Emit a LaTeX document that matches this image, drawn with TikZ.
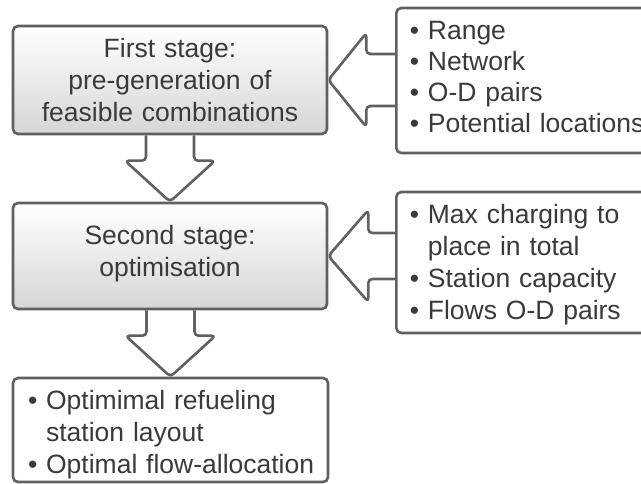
\documentclass[tikz,border=0pt]{standalone}
\usepackage{fontspec}
\setmainfont{Liberation Sans}
\usetikzlibrary{calc}
\pgfdeclarelayer{background}
\pgfsetlayers{background,main}
\definecolor{edge}{RGB}{96,96,96}
\definecolor{ink}{RGB}{58,58,58}
\definecolor{shadebot}{RGB}{214,214,214}
\newcommand\tallstrut[1]{\rule{0pt}{#1}}
\newcommand\deepstrut[1]{\rule[-#1]{0pt}{0pt}}
\newcommand\blockdown[5]{% source, target, stem half width, head half width, head depth
  \draw[blockarrow] let \p1=(#1.south), \p2=(#2.north) in
    (\x2-#3,\y1) -- (\x2-#3,\y2+#5) -- (\x2-#4,\y2+#5) -- (\x2,\y2)
    -- (\x2+#4,\y2+#5) -- (\x2+#3,\y2+#5) -- (\x2+#3,\y1);}
\newcommand\blockleft[5]{% source, target, stem half height, head half height, head depth
  \draw[blockarrow] let \p1=(#1.west), \p2=(#2.east) in
    (\x1,\y2+#3) -- (\x2+#5,\y2+#3) -- (\x2+#5,\y2+#4) -- (\x2,\y2)
    -- (\x2+#5,\y2-#4) -- (\x2+#5,\y2-#3) -- (\x1,\y2-#3);}
\begin{document}
\begin{tikzpicture}[x=1pt,y=-1pt,
  txt/.style={text=ink, font=\fontsize{26.5}{32}\selectfont},
  stagebox/.style={txt, draw=edge, line width=2.6pt, rounded corners=5pt,
    top color=white, bottom color=shadebot, minimum width=314pt,
    text width=304pt, align=center, inner sep=0pt},
  listbox/.style={txt, draw=edge, line width=2.6pt, rounded corners=5pt,
    fill=white, align=left, inner ysep=0pt},
  blockarrow/.style={draw=edge, line width=2.6pt, fill=white,
    rounded corners=4pt, line join=round}]
\useasboundingbox (0,0) rectangle (641,484);
\clip (0,0) rectangle (641,484);

\node[stagebox, minimum height=108pt] (s1) at (170,80)
  {First stage:\\pre-generation of\\feasible combinations};
\node[stagebox, minimum height=106pt] (s2) at (170,256)
  {Second stage:\\optimisation\deepstrut{10pt}};
\node[listbox, minimum width=315pt, minimum height=104pt, inner xsep=15pt,
  text width=285pt] (res) at (170.5,430)
  {\mbox{\tallstrut{29pt}\textbullet\ Optimimal refueling}\\\mbox{\hphantom{\textbullet}\ station layout}\\\mbox{\textbullet\ Optimal flow-allocation}};
\node[listbox, anchor=west, minimum height=145pt, inner xsep=13.5pt,
  text width=260pt, font=\fontsize{26.5}{31}\selectfont] (in1) at (395,80.5)
  {\mbox{\textbullet\ Range}\\\mbox{\textbullet\ Network}\\\mbox{\textbullet\ O-D pairs}\\\mbox{\textbullet\ Potential locations\deepstrut{8pt}}};
\node[listbox, anchor=west, minimum height=141pt, inner xsep=13.5pt,
  text width=260pt] (in2) at (395,262.5)
  {\mbox{\tallstrut{23pt}\textbullet\ Max charging to}\\\mbox{\hphantom{\textbullet}\ place in total}\\\mbox{\textbullet\ Station capacity}\\\mbox{\textbullet\ Flows O-D pairs}};

\begin{pgfonlayer}{background}
  \blockdown{s1}{s2}{24pt}{45pt}{41pt}
  \blockdown{s2}{res}{24pt}{45pt}{41pt}
  \blockleft{in1}{s1}{26pt}{47pt}{38pt}
  \blockleft{in2}{s2}{23pt}{46pt}{40pt}
\end{pgfonlayer}
\end{tikzpicture}
\end{document}
